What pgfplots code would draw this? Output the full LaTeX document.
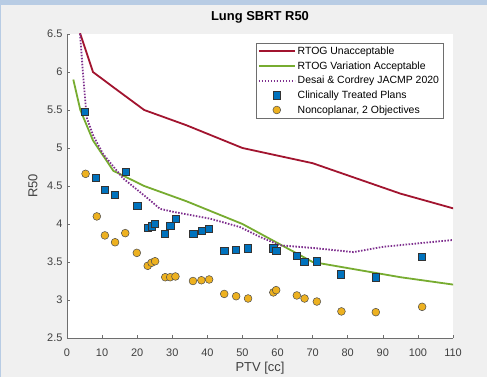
\documentclass[border=0pt]{standalone}
\usepackage{pgfplots}
\pgfplotsset{compat=1.18}
\usepackage{fontspec}
\setmainfont{Liberation Sans}
\definecolor{bg}{HTML}{F0F0F0}
\definecolor{topblue}{HTML}{B8CCE4}
\definecolor{axgray}{HTML}{6E6E6E}
\definecolor{txtgray}{HTML}{404040}
\definecolor{mred}{HTML}{A2142F}
\definecolor{mgreen}{HTML}{77AC30}
\definecolor{mpurple}{HTML}{7E2F8E}
\definecolor{mblue}{HTML}{0072BD}
\definecolor{morange}{HTML}{EDB120}
\begin{document}
\begin{tikzpicture}[x=1bp,y=1bp]
\useasboundingbox (0,0) rectangle (487,377);
\fill[bg] (0,0) rectangle (487,377);
\fill[topblue] (0,372) rectangle (487,377);
\fill[topblue] (0,0) rectangle (1.2,377);
\begin{axis}[
  at={(67bp,39bp)}, anchor=south west,
  scale only axis, width=386bp, height=304bp,
  xmin=0, xmax=110, ymin=2.5, ymax=6.5,
  xtick={0,10,...,110}, ytick={2.5,3,...,6.5},
  yticklabels={2.5,3,3.5,4,4.5,5,5.5,6,6.5},
  axis x line*=bottom, axis y line*=left,
  axis line style={-, draw=axgray, line width=0.6bp},
  tick style={draw=axgray, line width=0.5bp},
  tick align=inside, major tick length=3bp,
  axis background/.style={fill=white},
  /pgf/number format/assume math mode=true,
  ticklabel style={font=\fontsize{11}{12}\selectfont, text=txtgray},
  xticklabel style={yshift=-7bp},
  yticklabel style={xshift=-1bp},
  title={\textbf{Lung SBRT R50}},
  every axis title/.style={at={(axis description cs:0.5,1.056)}, anchor=center, font=\fontsize{13}{14}\selectfont},
  xlabel={PTV [cc]}, ylabel={R50},
  xlabel style={font=\fontsize{13}{14}\selectfont, text=txtgray, at={(axis description cs:0.5,-0.099)}, anchor=center},
  ylabel style={font=\fontsize{13}{14}\selectfont, text=txtgray, at={(axis description cs:-0.088,0.5)}, anchor=center},
  legend style={at={(0.974,0.971)}, anchor=north east, draw=axgray,
    font=\fontsize{10.5}{11.5}\selectfont, row sep=1.6bp, inner sep=1.8bp, cells={anchor=west}, fill=white},
  legend image code/.code={\draw[mark repeat=2,mark phase=2,#1] plot coordinates {(0bp,0bp)(18bp,0bp)(36bp,0bp)};},
  clip=true,
]
\addplot[mred, line width=1.8bp] coordinates {(1.8,7.5)(3.8,6.5)(7.4,6.0)(13.2,5.8)(22,5.5)(34,5.3)(50,5.0)(70,4.8)(95,4.4)(126,4.0)};
\addlegendentry{RTOG Unacceptable}
\addplot[mgreen, line width=1.8bp] coordinates {(1.8,5.9)(3.8,5.5)(7.4,5.1)(13.2,4.7)(22,4.5)(34,4.3)(50,4.0)(70,3.5)(95,3.3)(126,3.1)};
\addlegendentry{RTOG Variation Acceptable}
\addplot[mpurple, line width=1.8bp, dash pattern=on 1.5bp off 1.5bp] coordinates {(3.5,6.62)(4.65,5.93)(5.6,5.40)(7.5,5.16)(10.3,4.92)(16.0,4.60)(23.2,4.33)(26.5,4.20)(30.3,4.16)(40.8,4.07)(49.3,3.96)(55,3.83)(60.7,3.72)(71.2,3.68)(81.6,3.63)(90.1,3.70)(110,3.79)};
\addlegendentry{Desai \& Cordrey JACMP 2020}
\addplot[only marks, mark=square*, mark size=3.6bp, mark options={fill=mblue, draw=black!80, line width=0.5bp}] coordinates {
(5.1,5.48)(8.3,4.61)(10.8,4.45)(13.7,4.38)(16.7,4.69)(20.0,4.24)(23.0,3.95)(24.1,3.97)(25.1,4.00)(27.9,3.87)(29.4,3.98)(30.9,4.07)(36.0,3.87)(38.3,3.91)(40.5,3.94)(44.8,3.65)(48.2,3.66)(51.5,3.68)(58.8,3.68)(59.6,3.65)(65.5,3.58)(67.6,3.50)(71.1,3.51)(78.1,3.34)(88.0,3.30)(101.2,3.57)};
\addlegendentry{Clinically Treated Plans}
\addplot[only marks, mark=*, mark size=3.9bp, mark options={fill=morange, draw=black!70, line width=0.5bp}] coordinates {
(5.3,4.66)(8.5,4.10)(10.8,3.85)(13.7,3.76)(16.6,3.88)(19.9,3.62)(23.0,3.45)(24.1,3.49)(25.1,3.51)(28.0,3.30)(29.4,3.30)(30.9,3.31)(35.9,3.25)(38.3,3.26)(40.5,3.27)(44.8,3.08)(48.2,3.05)(51.6,3.02)(58.8,3.10)(59.6,3.13)(65.5,3.06)(67.7,3.02)(71.2,2.98)(78.2,2.85)(88.0,2.84)(101.2,2.91)};
\addlegendentry{Noncoplanar, 2 Objectives}
\end{axis}
\end{tikzpicture}
\end{document}
